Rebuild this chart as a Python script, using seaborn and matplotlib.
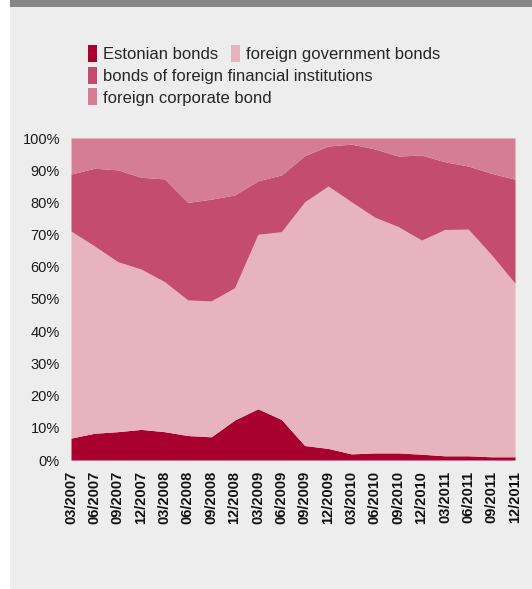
import numpy as np
import pandas as pd
import seaborn as sns
import matplotlib.pyplot as plt
from matplotlib.patches import Patch, Rectangle

quarters = ['03/2007', '06/2007', '09/2007', '12/2007', '03/2008', '06/2008', '09/2008',
            '12/2008', '03/2009', '06/2009', '09/2009', '12/2009', '03/2010', '06/2010',
            '09/2010', '12/2010', '03/2011', '06/2011', '09/2011', '12/2011']

# shares in %
estonian = [6.8, 8.3, 8.8, 9.5, 8.8, 7.6, 7.2, 12.4, 15.9, 12.6,
            4.5, 3.6, 1.9, 2.2, 2.2, 1.8, 1.3, 1.3, 1.0, 1.0]
foreign_gov = [64.3, 58.2, 52.8, 49.8, 46.6, 42.1, 42.2, 41.1, 54.2, 58.3,
               75.7, 81.5, 78.3, 73.2, 70.3, 66.5, 70.3, 70.4, 62.7, 53.9]
foreign_fin = [17.7, 24.1, 28.5, 28.5, 31.9, 30.3, 31.6, 28.8, 16.6, 17.6,
               14.3, 12.4, 17.9, 21.2, 21.9, 26.4, 21.0, 19.6, 25.3, 32.3]
foreign_corp = [11.2, 9.4, 9.9, 12.2, 12.7, 20.0, 19.0, 17.7, 13.3, 11.5,
                5.5, 2.5, 1.9, 3.4, 5.6, 5.3, 7.4, 8.7, 11.0, 12.8]

labels = ['Estonian bonds', 'foreign government bonds',
          'bonds of foreign financial institutions', 'foreign corporate bond']
colors = ['#A8002F', '#E6B3BF', '#C44C6E', '#D57D95']

df = pd.DataFrame({labels[0]: estonian, labels[1]: foreign_gov,
                   labels[2]: foreign_fin, labels[3]: foreign_corp}, index=quarters)

sns.set_theme(style='white')
plt.rcParams['font.family'] = ['Liberation Sans', 'DejaVu Sans']

W, H = 532, 589
fig = plt.figure(figsize=(W / 100, H / 100), dpi=100, facecolor='white')

# grey panel and dark strip on top (behind the axes)
fig.patches.append(Rectangle((10 / W, -0.01), 1, 1.01 - 7 / H, transform=fig.transFigure,
                             facecolor='#ECEDEC', edgecolor='none', zorder=-2))
fig.patches.append(Rectangle((10 / W, 1 - 7 / H), 1, 7 / H, transform=fig.transFigure,
                             facecolor='#878788', edgecolor='none', zorder=-2))

ax = fig.add_axes([71 / W, 1 - 460 / H, (515 - 71) / W, (460 - 138) / H])
x = np.arange(len(quarters))
ax.stackplot(x, df.T.values, colors=colors, linewidth=0)
ax.set_xlim(0, len(quarters) - 1)
ax.set_ylim(0, 100)
ax.set_yticks(np.arange(0, 101, 10))
ax.set_yticklabels([f'{v}%' for v in range(0, 101, 10)], fontsize=10.5, color='#1a1a1a')
ax.set_xticks(x)
ax.set_xticklabels(quarters, rotation=90, fontsize=10.5, fontweight='bold', color='#111111')
ax.tick_params(axis='y', length=0, pad=8)
ax.tick_params(axis='x', length=0, pad=8)
sns.despine(ax=ax, left=True, bottom=True)
ax.set_facecolor('none')

handles = [Patch(facecolor=c, edgecolor='none') for c in colors]
kw = dict(frameon=False, fontsize=12, handlelength=0.55, handleheight=1.2,
          handletextpad=0.35, borderpad=0, borderaxespad=0, columnspacing=0.75,
          labelspacing=0.25, loc='upper left')
fig.legend(handles[:2], labels[:2], ncol=2, bbox_to_anchor=(88 / W, 1 - 45 / H), **kw)
fig.legend(handles[2:], labels[2:], ncol=1, bbox_to_anchor=(88 / W, 1 - 67 / H), **kw)

fig.savefig('out.png', dpi=100)
